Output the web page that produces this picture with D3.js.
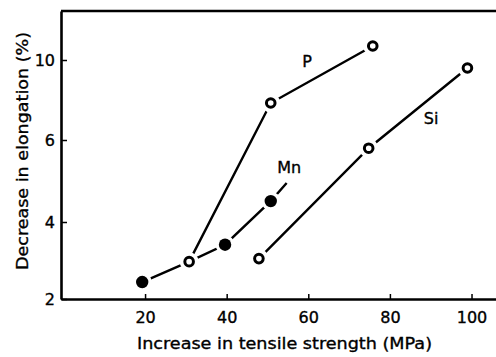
<!DOCTYPE html>
<html>
<head>
<meta charset="utf-8">
<script src="https://cdn.jsdelivr.net/npm/d3@7"></script>
<style>
  html, body { margin: 0; padding: 0; background: #fff; }
  svg { display: block; font-family: "DejaVu Sans", sans-serif; }
  svg text { stroke: #000; stroke-width: 0.35px; }
</style>
</head>
<body>
<div class="graph-container"></div>
<script>
// data
const pX = [30.8, 50.8, 75.8];
const pY = [2.97, 7.85, 10.7];
const siX = [47.9, 74.8, 99.0];
const siY = [3.05, 5.8, 9.6];
const mnX = [19.3, 39.6, 50.8];
const mnY = [2.44, 3.41, 4.51];
// Mn curve goes through the first P point and runs on a little past its last point
const mnLineX = [19.3, 30.8, 39.6, 50.8, 54.7];
const mnLineY = [2.44, 2.97, 3.41, 4.51, 4.95];
const xTicks = [20, 40, 60, 80, 100];
const yTicks = [2, 4, 6, 10];

// graph constants
const w = 496;
const h = 357;
const padLeft = 61;
const axisBottomY = 299;
const padTop = 11;
const ink = '#000';

const svg = d3.select('div.graph-container')
    .append('svg')
    .attr('width', w)
    .attr('height', h);

const xScale = d3.scaleLinear()
    .domain([-0.6, 106])
    .range([padLeft, w]);
// the printed y axis is not evenly spaced, so use a piecewise scale
const yScale = d3.scaleLinear()
    .domain([2, 4, 6, 10, 12.45])
    .range([axisBottomY, 222, 140, 60, padTop]);

// axes
const xAxis = d3.axisBottom(xScale)
    .tickValues(xTicks)
    .tickSizeInner(-5)
    .tickSizeOuter(0)
    .tickPadding(13);
const yAxis = d3.axisLeft(yScale)
    .tickValues(yTicks)
    .tickSizeInner(-6)
    .tickSizeOuter(0)
    .tickPadding(6);

const gx = svg.append('g')
    .attr('transform', `translate(0, ${axisBottomY})`)
    .call(xAxis);
const gy = svg.append('g')
    .attr('transform', `translate(${padLeft}, 0)`)
    .call(yAxis);

[gx, gy].forEach(g => {
    g.select('.domain').attr('stroke', ink).attr('stroke-width', 2.6);
    g.selectAll('.tick line').attr('stroke', ink).attr('stroke-width', 1.5);
    g.selectAll('.tick text')
        .attr('fill', ink)
        .attr('font-size', 16)
        .attr('font-family', '"DejaVu Sans", sans-serif');
});

// top frame line
svg.append('line')
    .attr('x1', padLeft).attr('x2', w)
    .attr('y1', padTop).attr('y2', padTop)
    .attr('stroke', ink)
    .attr('stroke-width', 2.6);

// axis titles
svg.append('text')
    .attr('x', 284.5)
    .attr('y', 349)
    .attr('text-anchor', 'middle')
    .attr('font-size', 16)
    .attr('textLength', 295)
    .attr('lengthAdjust', 'spacingAndGlyphs')
    .text('Increase in tensile strength (MPa)');
svg.append('text')
    .attr('transform', 'translate(28, 151) rotate(-90)')
    .attr('text-anchor', 'middle')
    .attr('font-size', 16)
    .attr('textLength', 238)
    .attr('lengthAdjust', 'spacingAndGlyphs')
    .text('Decrease in elongation (%)');

// lines
const line = d3.line()
    .x(d => xScale(d[0]))
    .y(d => yScale(d[1]));
const plot = svg.append('g');
[[pX, pY], [siX, siY], [mnLineX, mnLineY]].forEach(([xs, ys]) => {
    plot.append('path')
        .datum(d3.zip(xs, ys))
        .attr('d', line)
        .attr('fill', 'none')
        .attr('stroke', ink)
        .attr('stroke-width', 2.4);
});

// white halos around markers leave the small gaps seen in the figure
const openPts = d3.zip(pX.concat(siX), pY.concat(siY));
const filledPts = d3.zip(mnX, mnY);
const allPts = openPts.concat(filledPts);
plot.selectAll('circle.halo')
    .data(allPts)
    .enter()
    .append('circle')
    .attr('class', 'halo')
    .attr('cx', d => xScale(d[0]))
    .attr('cy', d => yScale(d[1]))
    .attr('r', 9.5)
    .attr('fill', '#fff');

plot.selectAll('circle.open')
    .data(openPts)
    .enter()
    .append('circle')
    .attr('class', 'open')
    .attr('cx', d => xScale(d[0]))
    .attr('cy', d => yScale(d[1]))
    .attr('r', 4.3)
    .attr('fill', '#fff')
    .attr('stroke', ink)
    .attr('stroke-width', 3);

plot.selectAll('circle.filled')
    .data(filledPts)
    .enter()
    .append('circle')
    .attr('class', 'filled')
    .attr('cx', d => xScale(d[0]))
    .attr('cy', d => yScale(d[1]))
    .attr('r', 6.2)
    .attr('fill', ink);

// series labels (placed in data units)
[['P', 59.7, 9.95], ['Si', 90.1, 7.1], ['Mn', 55.3, 5.34]].forEach(([t, x, y]) => {
    svg.append('text')
        .attr('x', xScale(x))
        .attr('y', yScale(y) + 6)
        .attr('text-anchor', 'middle')
        .attr('font-size', 16)
        .text(t);
});
</script>
</body>
</html>
